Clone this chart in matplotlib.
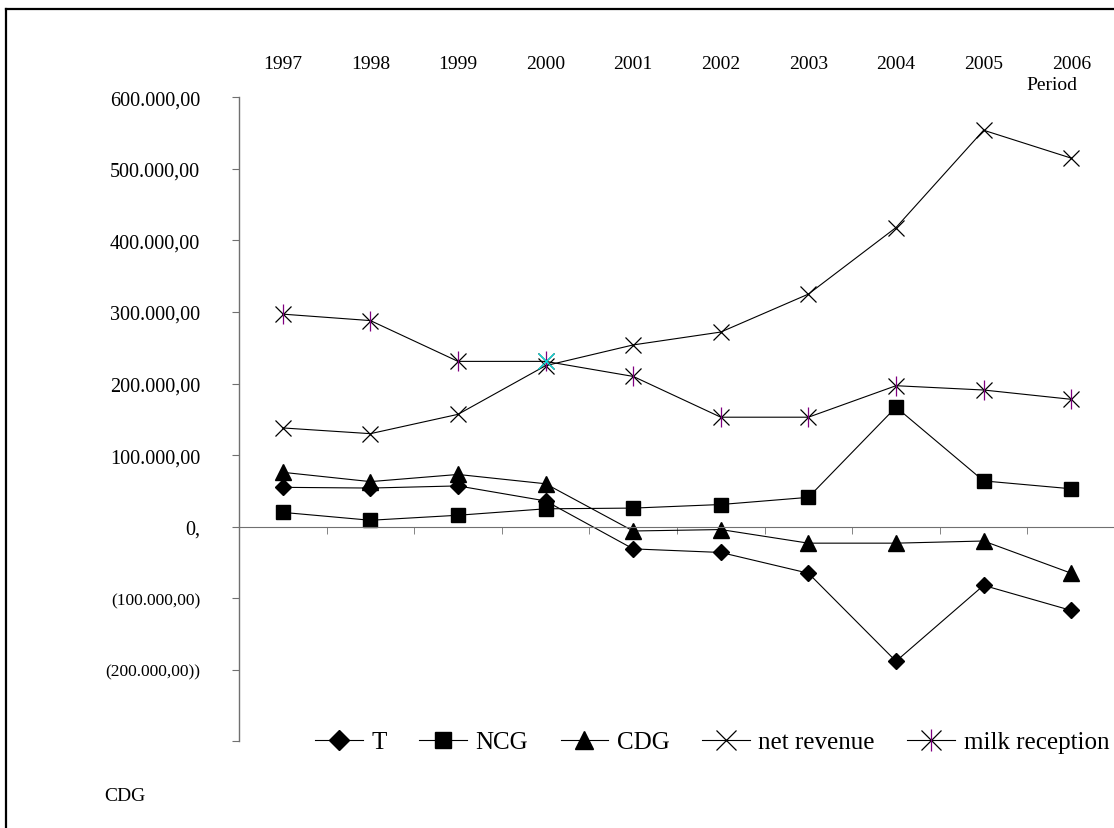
import matplotlib
matplotlib.use("Agg")
import matplotlib.pyplot as plt
from matplotlib.lines import Line2D
from matplotlib.legend_handler import HandlerTuple
import numpy as np

plt.rcParams["font.family"] = ["Liberation Serif", "DejaVu Serif"]

years = ["1997", "1998", "1999", "2000", "2001", "2002", "2003", "2004", "2005", "2006"]
t_vals = [55000, 54000, 57000, 36000, -31000, -36000, -65000, -188000, -82000, -117000]
ncg_vals = [20000, 9000, 16000, 25000, 26000, 31000, 41000, 167000, 64000, 53000]
cdg_vals = [76000, 63000, 73000, 60000, -6000, -4000, -23000, -23000, -20000, -65000]
net_revenue = [138000, 130000, 157000, 225000, 254000, 272000, 325000, 418000, 554000, 515000]
milk_reception = [297000, 288000, 231000, 231000, 210000, 153000, 153000, 197000, 191000, 178000]

y_ticks = [-300000, -200000, -100000, 0, 100000, 200000, 300000, 400000, 500000, 600000]
y_labels = ["", "(200.000,00))", "(100.000,00)", "0,", "100.000,00", "200.000,00",
            "300.000,00", "400.000,00", "500.000,00", "600.000,00"]

W, H = 1114, 829
fig = plt.figure(figsize=(W / 100, H / 100), dpi=100)
ax = fig.add_axes([239 / W, (H - 742.4) / H, 876 / W, (742.4 - 98.3) / H])

x = np.arange(1, len(years) + 1)
lw = 0.8

ax.plot(x, t_vals, color="black", lw=lw, marker="D", ms=8, mfc="black", mec="black")
ax.plot(x, ncg_vals, color="black", lw=lw, marker="s", ms=9.5, mfc="black", mec="black")
ax.plot(x, cdg_vals, color="black", lw=lw, marker="^", ms=11, mfc="black", mec="black")
ax.plot(x, net_revenue, color="black", lw=lw, marker="x", ms=12, mew=0.9)
ax.plot(x, milk_reception, color="black", lw=lw, marker="x", ms=12, mew=0.9)
ax.plot(x, milk_reception, ls="none", marker="|", ms=14, mew=0.9, color="#800080")
ax.plot(x, milk_reception, ls="none", marker="x", ms=12, mew=0.9, color="#00e0e0", markevery=[3])

ax.set_xlim(0.5, len(years) + 0.5)
ax.set_ylim(-300000, 600000)

# axes styling
axis_col = "#707070"
for side in ("top", "right"):
    ax.spines[side].set_visible(False)
ax.spines["bottom"].set_position(("data", 0))
ax.spines["bottom"].set_color(axis_col)
ax.spines["left"].set_color(axis_col)
ax.spines["left"].set_linewidth(1.0)

ax.set_xticks(x)
ax.set_xticklabels(years, fontsize=14)
ax.set_xticks(np.arange(1.5, len(years), 1.0), minor=True)
ax.tick_params(axis="x", which="major", bottom=False, top=False,
               labelbottom=False, labeltop=True, pad=14.5)
ax.tick_params(axis="x", which="minor", direction="out", length=5, color=axis_col, bottom=True)

ax.set_yticks(y_ticks)
ax.set_yticklabels(y_labels, fontsize=14.5)
ax.tick_params(axis="y", direction="out", length=5, color=axis_col, pad=23)
for lab, v in zip(ax.get_yticklabels(), y_ticks):
    if v < 0:
        lab.set_fontsize(12.5)

fig.text(1052 / W, 1 - 86 / H, "Period", fontsize=14, ha="center", va="center")
fig.text(104 / W, 1 - 797 / H, "CDG", fontsize=14, ha="left", va="center")

# legend
milk_handle = (
    Line2D([], [], color="black", lw=lw, marker="x", ms=14, mew=0.9),
    Line2D([], [], ls="none", marker="|", ms=16, mew=0.9, color="#800080"),
)
handles = [
    Line2D([], [], color="black", lw=lw, marker="D", ms=10, mfc="black"),
    Line2D([], [], color="black", lw=lw, marker="s", ms=12, mfc="black"),
    Line2D([], [], color="black", lw=lw, marker="^", ms=13, mfc="black"),
    Line2D([], [], color="black", lw=lw, marker="x", ms=14, mew=0.9),
    milk_handle,
]
leg = fig.legend(handles, ["T", "NCG", "CDG", "net revenue", "milk reception"],
                 loc="center left", bbox_to_anchor=(315 / W, 1 - 743 / H),
                 ncol=5, frameon=False, fontsize=18, handlelength=1.9,
                 handletextpad=0.35, columnspacing=1.3, borderaxespad=0, borderpad=0,
                 handler_map={tuple: HandlerTuple(ndivide=1)})

# figure border (top and left only visible)
fig.add_artist(Line2D([6 / W, 6 / W], [0, 1 - 10 / H], color="black", lw=1.6,
                      transform=fig.transFigure))
fig.add_artist(Line2D([6 / W, 1], [1 - 10 / H, 1 - 10 / H], color="black", lw=1.6,
                      transform=fig.transFigure))

fig.savefig("out.png", dpi=100)
